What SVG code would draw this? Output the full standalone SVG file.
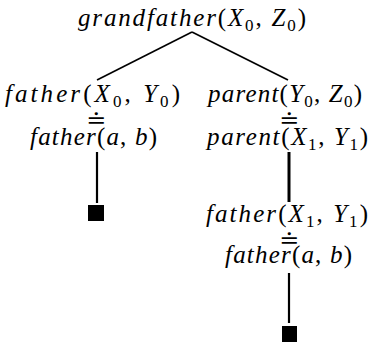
<svg xmlns="http://www.w3.org/2000/svg" width="371" height="346" viewBox="0 0 371 346">
<style>
.lbl{font-family:'Liberation Serif','Times New Roman',serif;font-size:25px;fill:#000}
.i{font-style:italic}
.sub{font-size:17px;font-style:normal}
.eq{font-family:'DejaVu Serif',serif;font-size:24px;fill:#000;text-anchor:middle}
.edge{stroke:#000;stroke-width:1.6;fill:none}
.v{stroke:#000;stroke-width:2.2;fill:none}
.leaf{fill:#000}
</style>
<rect width="371" height="346" fill="#fff"/>
<g id="connectors">
<line class="edge" x1="192" y1="32" x2="97" y2="80"/>
<line class="edge" x1="192" y1="32" x2="288" y2="80"/>
<line class="v" x1="97" y1="152" x2="97" y2="203"/>
<line class="v" x1="289" y1="152" x2="289" y2="202" style="stroke-width:3"/>
<line class="v" x1="289" y1="273" x2="289" y2="323"/>
</g>
<g id="n-grandfather">
<text class="lbl" x="78" y="26" textLength="228" lengthAdjust="spacing"><tspan class="i">grandfather</tspan>(<tspan class="i">X</tspan><tspan class="sub" dy="5">0</tspan><tspan dy="-5">, </tspan><tspan class="i">Z</tspan><tspan class="sub" dy="5">0</tspan><tspan dy="-5">)</tspan></text>
</g>
<g id="n-father-x0y0">
<text class="lbl" x="5" y="102" textLength="175" lengthAdjust="spacing"><tspan class="i">father</tspan>(<tspan class="i">X</tspan><tspan class="sub" dy="5">0</tspan><tspan dy="-5">, </tspan><tspan class="i">Y</tspan><tspan class="sub" dy="5">0</tspan><tspan dy="-5">)</tspan></text>
<text class="eq" x="96" y="128">≐</text>
</g>
<g id="n-father-ab-1">
<text class="lbl" x="30" y="145" textLength="127" lengthAdjust="spacing"><tspan class="i">father</tspan>(<tspan class="i">a</tspan>, <tspan class="i">b</tspan>)</text>
</g>
<g id="n-leaf-1">
<rect class="leaf" x="88" y="205" width="16" height="16"/>
</g>
<g id="n-parent-y0z0">
<text class="lbl" x="208" y="102" textLength="154" lengthAdjust="spacing"><tspan class="i">parent</tspan>(<tspan class="i">Y</tspan><tspan class="sub" dy="5">0</tspan><tspan dy="-5">, </tspan><tspan class="i">Z</tspan><tspan class="sub" dy="5">0</tspan><tspan dy="-5">)</tspan></text>
<text class="eq" x="289" y="128">≐</text>
</g>
<g id="n-parent-x1y1">
<text class="lbl" x="207" y="145" textLength="161" lengthAdjust="spacing"><tspan class="i">parent</tspan>(<tspan class="i">X</tspan><tspan class="sub" dy="5">1</tspan><tspan dy="-5">, </tspan><tspan class="i">Y</tspan><tspan class="sub" dy="5">1</tspan><tspan dy="-5">)</tspan></text>
</g>
<g id="n-father-x1y1">
<text class="lbl" x="206" y="222" textLength="162" lengthAdjust="spacing"><tspan class="i">father</tspan>(<tspan class="i">X</tspan><tspan class="sub" dy="5">1</tspan><tspan dy="-5">, </tspan><tspan class="i">Y</tspan><tspan class="sub" dy="5">1</tspan><tspan dy="-5">)</tspan></text>
<text class="eq" x="289" y="248">≐</text>
</g>
<g id="n-father-ab-2">
<text class="lbl" x="225" y="263" textLength="127" lengthAdjust="spacing"><tspan class="i">father</tspan>(<tspan class="i">a</tspan>, <tspan class="i">b</tspan>)</text>
</g>
<g id="n-leaf-2">
<rect class="leaf" x="282" y="326" width="15" height="16"/>
</g>
</svg>
